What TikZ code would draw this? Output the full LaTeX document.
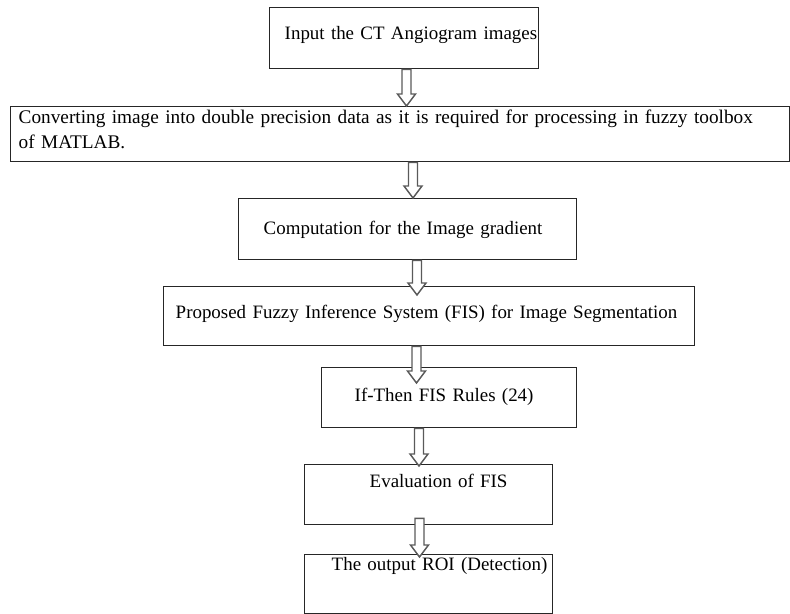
\documentclass[tikz,border=0pt]{standalone}
\usepackage{fontspec}
\setmainfont{Liberation Serif}
\usetikzlibrary{calc}

\newdimen\px
\px=0.75pt

\definecolor{boxline}{HTML}{262626}
\definecolor{arrowline}{HTML}{5A5A5A}

\tikzset{
  box/.style n args={4}{draw=boxline, line width=1.1pt, fill=white, inner sep=0pt,
    anchor=north west, text width=#1\px, text height=#3\px, text depth=#4\px,
    font=\fontsize{14.2pt}{18.75pt}\selectfont,
    execute at begin node={\rightskip=0pt plus 1fil minus 40pt\relax\hyphenpenalty=10000\hspace*{#2\px}}},
  hollow/.style={draw=arrowline, fill=white, line width=1.1pt, line join=miter}
}

% [lift of the tail]{from}{to}{x of the arrow}{depth of the tip}
\newcommand{\flowedge}[5][0]{%
  \path (#2.south -| #4,0) ++(0,-#1) coordinate (s) (#3.north -| #4,0) ++(0,#5) coordinate (t);
  \draw[hollow] ($(s)+(-4.5,0)$) -- ($(t)+(-4.5,-12)$) -- ($(t)+(-9,-12)$) -- (t)
    -- ($(t)+(9,-12)$) -- ($(t)+(4.5,-12)$) -- ($(s)+(4.5,0)$) -- cycle;}

\begin{document}
\begin{tikzpicture}[x=0.75pt,y=-0.75pt]
  \useasboundingbox (0,0) rectangle (790,614);

  % Nodes
  \node[box={269}{15}{31.3}{29.7}] (in) at (269,7) {Input the CT Angiogram images};
  \node[box={779}{8}{16.5}{38.5}, font=\fontsize{14.45pt}{18.75pt}\selectfont] (conv) at (10,106) {Converting image into double precision data as it is required for processing in fuzzy toolbox\\\hspace*{8\px}of MATLAB.};
  \node[box={338}{25}{35.3}{25.7}] (grad) at (238,198) {Computation for the Image gradient};
  \node[box={531}{12}{31.3}{27.7}] (fis) at (163,286) {Proposed Fuzzy Inference System (FIS) for Image Segmentation};
  \node[box={255}{33}{34}{26}] (rules) at (321,367) {If-Then FIS Rules (24)};
  \node[box={248}{65}{22.7}{37.3}] (eval) at (304,464) {Evaluation of FIS};
  \node[box={248}{27}{15.3}{43.7}] (out) at (304,554) {The output ROI (Detection)};

  % Edges
  \flowedge{in}{conv}{406.5}{0}
  \flowedge{conv}{grad}{413}{0}
  \flowedge{grad}{fis}{417}{9}
  \flowedge{fis}{rules}{416.5}{16}
  \flowedge{rules}{eval}{419}{2}
  \flowedge[7]{eval}{out}{419.5}{3}
\end{tikzpicture}
\end{document}
